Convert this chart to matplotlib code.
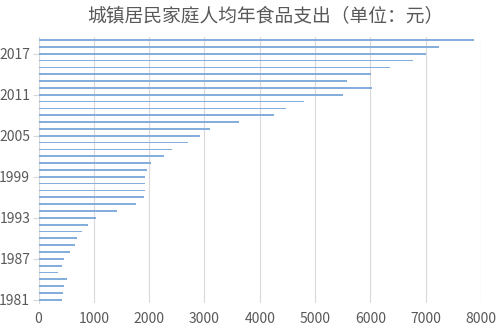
import matplotlib.pyplot as plt
import numpy as np

plt.rcParams['font.family'] = ['Noto Sans CJK SC', 'DejaVu Sans']

# 城镇居民家庭人均年食品支出（元），1981-2019
years = list(range(1981, 2020))
food_spend = [428, 440, 464, 512, 355, 416, 470, 572, 657, 693,
              783, 892, 1048, 1422, 1771, 1910, 1934, 1928, 1922, 1964,
              2036, 2277, 2410, 2711, 2916, 3108, 3620, 4265, 4482, 4801,
              5512, 6036, 5578, 6006, 6361, 6777, 7012, 7247, 7880]
tick_years = [1981, 1987, 1993, 1999, 2005, 2011, 2017]
x_ticks = list(range(0, 9000, 1000))

fig = plt.figure(figsize=(5, 3.3), dpi=100)
ax = fig.add_axes([0.077, 0.081, 0.885, 0.808])

pos = np.arange(len(years))
ax.barh(pos, food_spend, height=0.25, color='#86AEDC', edgecolor='none', zorder=3)

ax.set_xlim(0, 8000)
ax.set_ylim(-0.5, len(years) - 0.5)
ax.set_xticks(x_ticks)
ax.set_xticklabels([str(v) for v in x_ticks], fontsize=10, color='#595959')
ax.set_yticks([years.index(y) for y in tick_years])
ax.set_yticklabels([str(y) for y in tick_years], fontsize=10, color='#595959')

ax.grid(axis='x', color='#D9D9D9', linewidth=0.8, zorder=0)
for s in ['top', 'right', 'bottom']:
    ax.spines[s].set_visible(False)
ax.spines['left'].set_color('#D9D9D9')
ax.tick_params(axis='x', length=0, pad=6)
ax.tick_params(axis='y', length=4, color='#D9D9D9', pad=2)

fig.text(0.53, 0.95, '城镇居民家庭人均年食品支出（单位：元）', ha='center', va='center',
         fontsize=13.5, color='#595959')

fig.savefig('out.png', dpi=100)
